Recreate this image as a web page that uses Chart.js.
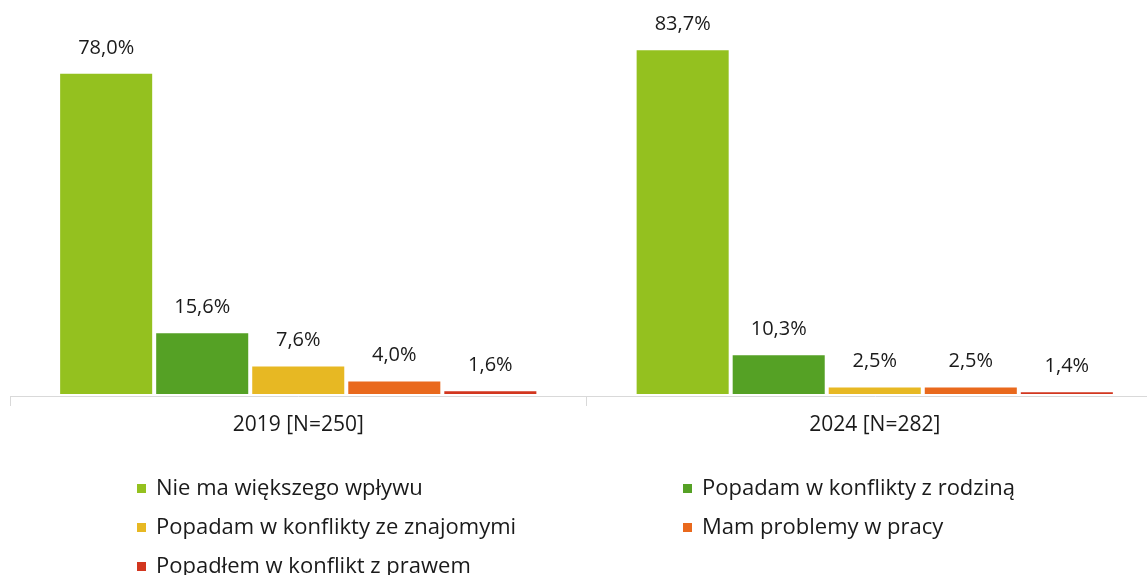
<!DOCTYPE html>
<html>
<head>
<meta charset="utf-8">
<script src="https://cdn.jsdelivr.net/npm/chart.js@4/dist/chart.umd.min.js"></script>
<style>
  html, body { margin: 0; padding: 0; background: #fff; overflow: hidden; }
  #wrap { width: 1163px; height: 575px; }
</style>
</head>
<body>
<div id="wrap"><canvas id="chart" width="1163" height="575"></canvas></div>
<script>
// categories and series
const categories = ["2019 [N=250]", "2024 [N=282]"];
const seriesNames = [
  "Nie ma większego wpływu",
  "Popadam w konflikty z rodziną",
  "Popadam w konflikty ze znajomymi",
  "Mam problemy w pracy",
  "Popadłem w konflikt z prawem",
];
const noImpact = [78.0, 83.7];
const familyConflict = [15.6, 10.3];
const friendsConflict = [7.6, 2.5];
const workProblems = [4.0, 2.5];
const lawConflict = [1.6, 1.4];

const seriesValues = [noImpact, familyConflict, friendsConflict, workProblems, lawConflict];
const colors = ["#94c11f", "#55a125", "#e7b823", "#e9691d", "#d2361f"];
const FONT = "'Open Sans', Lato, sans-serif";
const TEXT = "#1a1a1a";

// value labels above bars
const valueLabels = {
  id: "valueLabels",
  afterDatasetsDraw(chart) {
    const ctx = chart.ctx;
    ctx.save();
    ctx.font = "20px " + FONT;
    ctx.fillStyle = TEXT;
    ctx.textAlign = "center";
    ctx.textBaseline = "middle";
    chart.data.datasets.forEach((ds, i) => {
      chart.getDatasetMeta(i).data.forEach((bar, j) => {
        const txt = ds.data[j].toFixed(1).replace(".", ",") + "%";
        ctx.fillText(txt, bar.x, bar.y - 24);
      });
    });
    ctx.restore();
  },
};

// two-column legend under the axis
const columnLegend = {
  id: "columnLegend",
  afterDraw(chart) {
    const ctx = chart.ctx;
    const colX = [137, 683];
    const rowY = [488, 527, 566];
    ctx.save();
    ctx.font = "22px " + FONT;
    ctx.textBaseline = "middle";
    chart.data.datasets.forEach((ds, i) => {
      const x = colX[i % 2];
      const y = rowY[Math.floor(i / 2)];
      ctx.fillStyle = ds.backgroundColor;
      ctx.fillRect(x, y - 4, 9, 9);
      ctx.fillStyle = TEXT;
      ctx.fillText(ds.label, x + 19, y + 1);
    });
    ctx.restore();
  },
};

new Chart(document.getElementById("chart"), {
  type: "bar",
  data: {
    labels: categories,
    datasets: seriesNames.map((name, i) => ({
      label: name,
      data: seriesValues[i],
      backgroundColor: colors[i],
      borderColor: "#ffffff",
      borderWidth: 2,
      borderSkipped: false,
      categoryPercentage: 0.833,
      barPercentage: 1,
    })),
  },
  options: {
    responsive: false,
    animation: false,
    layout: { padding: { left: 10, right: 0, top: 22, bottom: 129 } },
    plugins: {
      legend: { display: false },
      tooltip: { enabled: false },
    },
    scales: {
      x: {
        offset: true,
        afterFit(scale) { scale.height = 50; },
        grid: {
          offset: true,
          drawOnChartArea: false,
          drawTicks: true,
          tickLength: 10,
          color: "#d9d9d9",
        },
        border: { color: "#d9d9d9", width: 1 },
        ticks: {
          color: TEXT,
          font: { family: FONT, size: 21 },
          padding: 6,
        },
      },
      y: {
        display: false,
        min: 0,
        max: 90,
      },
    },
  },
  plugins: [valueLabels, columnLegend],
});
</script>
</body>
</html>
